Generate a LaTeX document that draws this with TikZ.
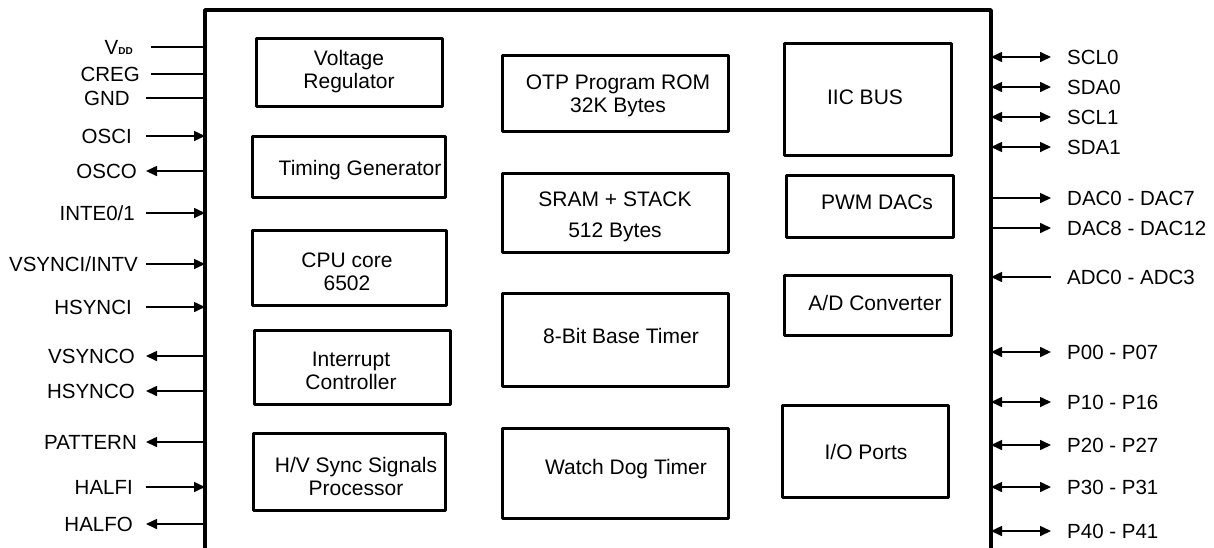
\documentclass[tikz,border=0pt]{standalone}
\usepackage{fontspec}
\setmainfont{Liberation Sans}
\usetikzlibrary{arrows.meta}
\tikzset{
  pt/.tip={Triangle[length=11pt,width=10pt]},
  blk/.style={draw, line width=3pt, line join=round, inner sep=0pt, rectangle},
  btxt/.style={inner sep=0pt, align=center, font=\fontsize{21}{23}\selectfont},
  pin/.style={inner sep=0pt, font=\fontsize{20.5}{24}\selectfont},
  wire/.style={line width=1.6pt},
  frame/.style={line width=3.5pt, line join=round}
}
\begin{document}
\begin{tikzpicture}[x=1pt,y=-1pt]
\useasboundingbox[fill=white] (0,0) rectangle (1214,547);

% main frame (open at the bottom)
\coordinate (mb-bl) at (205,556);
\coordinate (mb-tl) at (205,10);
\coordinate (mb-tr) at (991,10);
\coordinate (mb-br) at (991,556);
\draw[frame] (mb-bl) -- (mb-tl) -- (mb-tr) -- (mb-br);

% left column
\node[blk, minimum width=186pt, minimum height=68pt] (vr) at (349,72) {};
\node[btxt] (vr-t) at (349,72) {Voltage\\Regulator};
\node[blk, minimum width=193pt, minimum height=61pt] (tg) at (348.5,166.5) {};
\node[btxt] (tg-t) at (360,170) {Timing Generator};
\node[blk, minimum width=194pt, minimum height=75pt] (cpu) at (349,267.5) {};
\node[btxt] (cpu-t) at (347,271.5) {CPU core\\6502};
\node[blk, minimum width=196pt, minimum height=74pt] (ic) at (352,367) {};
\node[btxt] (ic-t) at (351,371) {Interrupt\\Controller};
\node[blk, minimum width=192pt, minimum height=77pt] (hv) at (349,471.5) {};
\node[btxt] (hv-t) at (356,476.5) {H/V Sync Signals\\Processor};

% middle column
\node[blk, minimum width=226pt, minimum height=76pt] (otp) at (615,93) {};
\node[btxt] (otp-t) at (618,95.5) {OTP Program ROM\\32K Bytes};
\node[blk, minimum width=226pt, minimum height=79pt] (sram) at (615,212.5) {};
\node[btxt, font=\fontsize{21}{31}\selectfont] (sram-t) at (615,217) {SRAM + STACK\\512 Bytes};
\node[blk, minimum width=226pt, minimum height=93pt] (bt) at (615,339.5) {};
\node[btxt] (bt-t) at (621,336) {8-Bit Base Timer};
\node[blk, minimum width=226pt, minimum height=90pt] (wd) at (615,473) {};
\node[btxt] (wd-t) at (626,469) {Watch Dog Timer};

% right column
\node[blk, minimum width=167pt, minimum height=112pt] (iic) at (867.5,99) {};
\node[btxt] (iic-t) at (865,97) {IIC BUS};
\node[blk, minimum width=167pt, minimum height=62pt] (pwm) at (869.5,206) {};
\node[btxt] (pwm-t) at (877,202) {PWM DACs};
\node[blk, minimum width=167pt, minimum height=60pt] (adc) at (867.5,305) {};
\node[btxt] (adc-t) at (875,303) {A/D Converter};
\node[blk, minimum width=166pt, minimum height=92pt] (io) at (865,451) {};
\node[btxt] (io-t) at (866,452) {I/O Ports};

% ---------------- left pins ----------------
\node[pin, anchor=base east] (vdd) at (133,54) {V\raisebox{-0.5pt}{\fontsize{10}{10}\selectfont\bfseries DD}};
\coordinate (vdd-a) at (151,47); \coordinate (vdd-b) at (205,47);
\draw[wire] (vdd-a) -- (vdd-b);

\node[pin, anchor=base east] (creg) at (140,81) {CREG};
\coordinate (creg-a) at (151,74); \coordinate (creg-b) at (205,74);
\draw[wire] (creg-a) -- (creg-b);

\node[pin, anchor=base east] (gnd) at (130,105) {GND};
\coordinate (gnd-a) at (146,98); \coordinate (gnd-b) at (205,98);
\draw[wire] (gnd-a) -- (gnd-b);

\node[pin, anchor=base east] (osci) at (132,143) {OSCI};
\coordinate (osci-a) at (146,136); \coordinate (osci-b) at (205,136);
\draw[wire,-pt] (osci-a) -- (osci-b);

\node[pin, anchor=base east] (osco) at (137,178) {OSCO};
\coordinate (osco-a) at (146,171); \coordinate (osco-b) at (205,171);
\draw[wire,-pt] (osco-b) -- (osco-a);

\node[pin, anchor=base east] (inte) at (135,220) {INTE0/1};
\coordinate (inte-a) at (146,213); \coordinate (inte-b) at (205,213);
\draw[wire,-pt] (inte-a) -- (inte-b);

\node[pin, anchor=base east] (vsi) at (138,271) {VSYNCI/INTV};
\coordinate (vsi-a) at (146,264); \coordinate (vsi-b) at (205,264);
\draw[wire,-pt] (vsi-a) -- (vsi-b);

\node[pin, anchor=base east] (hsi) at (132,314) {HSYNCI};
\coordinate (hsi-a) at (146,307); \coordinate (hsi-b) at (205,307);
\draw[wire,-pt] (hsi-a) -- (hsi-b);

\node[pin, anchor=base east] (vso) at (135,363) {VSYNCO};
\coordinate (vso-a) at (146,356); \coordinate (vso-b) at (205,356);
\draw[wire,-pt] (vso-b) -- (vso-a);

\node[pin, anchor=base east] (hso) at (135,398) {HSYNCO};
\coordinate (hso-a) at (146,391); \coordinate (hso-b) at (205,391);
\draw[wire,-pt] (hso-b) -- (hso-a);

\node[pin, anchor=base east] (pat) at (137,449) {PATTERN};
\coordinate (pat-a) at (146,442); \coordinate (pat-b) at (205,442);
\draw[wire,-pt] (pat-b) -- (pat-a);

\node[pin, anchor=base east] (hfi) at (133,494) {HALFI};
\coordinate (hfi-a) at (146,487); \coordinate (hfi-b) at (205,487);
\draw[wire,-pt] (hfi-a) -- (hfi-b);

\node[pin, anchor=base east] (hfo) at (133,531) {HALFO};
\coordinate (hfo-a) at (146,524); \coordinate (hfo-b) at (205,524);
\draw[wire,-pt] (hfo-b) -- (hfo-a);

% ---------------- right pins ----------------
\node[pin, anchor=base west] (scl0) at (1067,64) {SCL0};
\coordinate (scl0-a) at (991,57); \coordinate (scl0-b) at (1051,57);
\draw[wire,pt-pt] (scl0-a) -- (scl0-b);

\node[pin, anchor=base west] (sda0) at (1067,94) {SDA0};
\coordinate (sda0-a) at (991,87); \coordinate (sda0-b) at (1051,87);
\draw[wire,pt-pt] (sda0-a) -- (sda0-b);

\node[pin, anchor=base west] (scl1) at (1067,124) {SCL1};
\coordinate (scl1-a) at (991,117); \coordinate (scl1-b) at (1051,117);
\draw[wire,pt-pt] (scl1-a) -- (scl1-b);

\node[pin, anchor=base west] (sda1) at (1067,154) {SDA1};
\coordinate (sda1-a) at (991,147); \coordinate (sda1-b) at (1051,147);
\draw[wire,pt-pt] (sda1-a) -- (sda1-b);

\node[pin, anchor=base west] (dac0) at (1067,205) {DAC0 - DAC7};
\coordinate (dac0-a) at (991,198); \coordinate (dac0-b) at (1051,198);
\draw[wire,-pt] (dac0-a) -- (dac0-b);

\node[pin, anchor=base west] (dac8) at (1067,235) {DAC8 - DAC12};
\coordinate (dac8-a) at (991,228); \coordinate (dac8-b) at (1051,228);
\draw[wire,-pt] (dac8-a) -- (dac8-b);

\node[pin, anchor=base west] (adcp) at (1067,284) {ADC0 - ADC3};
\coordinate (adcp-a) at (991,277); \coordinate (adcp-b) at (1051,277);
\draw[wire,-pt] (adcp-b) -- (adcp-a);

\node[pin, anchor=base west] (p0) at (1067,359) {P00 - P07};
\coordinate (p0-a) at (991,352); \coordinate (p0-b) at (1051,352);
\draw[wire,pt-pt] (p0-a) -- (p0-b);

\node[pin, anchor=base west] (p1) at (1067,409) {P10 - P16};
\coordinate (p1-a) at (991,402); \coordinate (p1-b) at (1051,402);
\draw[wire,pt-pt] (p1-a) -- (p1-b);

\node[pin, anchor=base west] (p2) at (1067,452) {P20 - P27};
\coordinate (p2-a) at (991,445); \coordinate (p2-b) at (1051,445);
\draw[wire,pt-pt] (p2-a) -- (p2-b);

\node[pin, anchor=base west] (p3) at (1067,494) {P30 - P31};
\coordinate (p3-a) at (991,487); \coordinate (p3-b) at (1051,487);
\draw[wire,pt-pt] (p3-a) -- (p3-b);

\node[pin, anchor=base west] (p4) at (1067,538) {P40 - P41};
\coordinate (p4-a) at (991,531); \coordinate (p4-b) at (1051,531);
\draw[wire,pt-pt] (p4-a) -- (p4-b);
\end{tikzpicture}
\end{document}
